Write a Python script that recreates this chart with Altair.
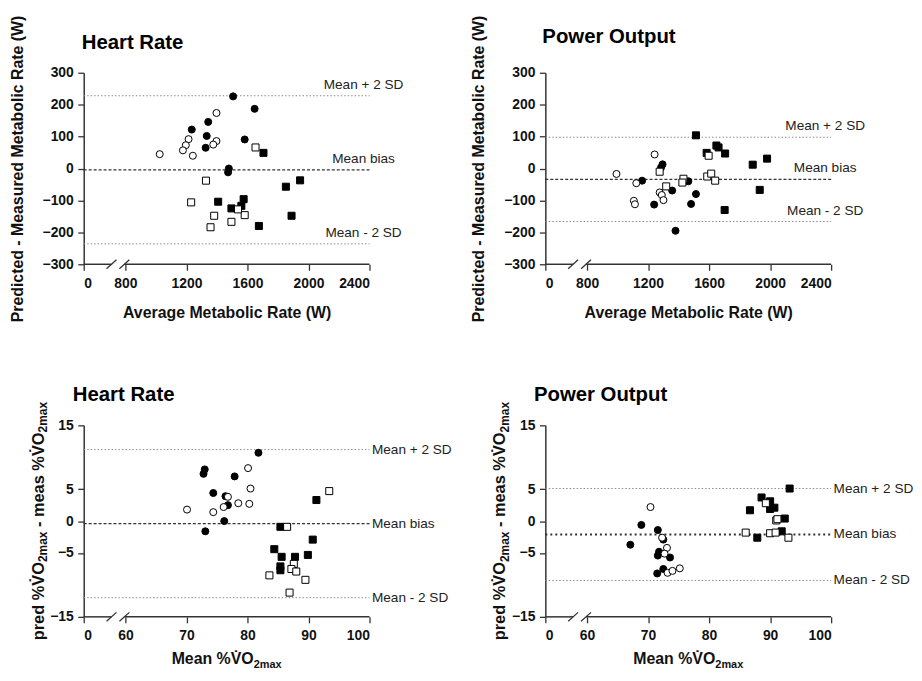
import altair as alt
import pandas as pd

FONT = "Liberation Sans"
INK = "#111111"
AXIS_C = "#333333"

# ---------------- values ----------------
# Panel A - Heart Rate, metabolic rate (W)
A_fc_x = [1506, 1647, 1343, 1235, 1333, 1582, 1326, 1478, 1473]
A_fc_y = [226, 187, 146, 122, 102, 91, 65, 0, -12]
A_oc_x = [1025, 1397, 1214, 1196, 1177, 1242, 1397, 1376]
A_oc_y = [45, 174, 92, 73, 57, 40, 86, 75]
A_fs_x = [1705, 1408, 1495, 1560, 1575, 1675, 1852, 1889, 1945]
A_fs_y = [49, -104, -125, -117, -96, -180, -57, -148, -37]
A_os_x = [1653, 1328, 1231, 1382, 1358, 1495, 1582, 1538]
A_os_y = [66, -38, -106, -148, -184, -167, -146, -128]
A_lines = [228, -4, -236]

# Panel B - Power Output, metabolic rate (W)
B_fc_x = [1161, 1285, 1295, 1358, 1464, 1514, 1240, 1482, 1380]
B_fc_y = [-38, 3, 13, -69, -40, -80, -113, -111, -195]
B_oc_x = [993, 1243, 1123, 1276, 1290, 1301, 1107, 1114]
B_oc_y = [-17, 44, -46, -75, -83, -99, -101, -112]
B_fs_x = [1514, 1648, 1662, 1584, 1705, 1886, 1980, 1932, 1702]
B_fs_y = [104, 72, 66, 49, 47, 12, 31, -67, -130]
B_os_x = [1597, 1276, 1432, 1425, 1319, 1588, 1614, 1640]
B_os_y = [40, -10, -32, -44, -56, -25, -16, -38]
B_lines = [98, -34, -166]

# Panel C - Heart Rate, %VO2max
C_fc_x = [81.8, 73.0, 72.8, 77.9, 74.4, 76.4, 76.8, 76.2, 73.1]
C_fc_y = [10.7, 8.1, 7.4, 7.0, 4.4, 3.9, 2.5, 0.0, -1.6]
C_oc_x = [80.1, 80.5, 80.3, 78.5, 76.8, 76.1, 74.4, 70.1]
C_oc_y = [8.3, 5.1, 2.7, 2.8, 3.8, 2.2, 1.4, 1.8]
C_fs_x = [91.3, 85.4, 90.7, 84.4, 85.6, 87.8, 89.9, 85.4, 85.4]
C_fs_y = [3.3, -0.9, -2.9, -4.4, -5.6, -5.6, -5.3, -7.1, -7.7]
C_os_x = [93.4, 86.5, 87.6, 87.2, 88.0, 83.6, 89.5, 86.9]
C_os_y = [4.7, -0.9, -6.7, -7.5, -7.9, -8.5, -9.2, -11.2]
C_lines = [11.2, -0.4, -12.0]

# Panel D - Power Output, %VO2max
D_fc_x = [67.1, 68.9, 71.6, 72.5, 71.8, 71.6, 73.6, 72.5, 71.5]
D_fc_y = [-3.7, -0.6, -1.4, -2.9, -4.8, -5.4, -5.7, -7.5, -8.2]
D_oc_x = [70.4, 72.3, 73.1, 72.7, 73.2, 74.0, 75.2]
D_oc_y = [2.2, -2.6, -4.2, -5.1, -8.1, -7.8, -7.4]
D_fs_x = [93.2, 88.6, 90.0, 86.7, 90.0, 90.7, 92.4, 91.9, 87.9]
D_fs_y = [5.1, 3.7, 3.1, 1.7, 1.9, 2.1, 0.4, -1.6, -2.6]
D_os_x = [89.3, 91.0, 91.2, 86.0, 90.0, 90.9, 93.0]
D_os_y = [2.8, 0.1, 0.3, -1.8, -1.9, -1.8, -2.6]
D_lines = [5.1, -2.1, -9.3]

line_labels = ["Mean + 2 SD", "Mean bias", "Mean - 2 SD"]
line_kinds = ["sd", "bias", "sd"]
panel_titles = ["Heart Rate", "Power Output", "Heart Rate", "Power Output"]

x_ticks_w = [800, 1200, 1600, 2000, 2400]
x_ticks_pct = [60, 70, 80, 90, 100]
y_ticks_w = [-300, -200, -100, 0, 100, 200, 300]
y_ticks_pct = [-15, -5, 0, 5, 15]

X_TITLE_W = "Average Metabolic Rate (W)"
Y_TITLE_W = "Predicted - Measured Metabolic Rate (W)"
VO = "%V\u0307O"
X_RUNS_P = [("Mean " + VO, False), ("2max", True)]
Y_RUNS_P = [("pred " + VO, False), ("2max", True), ("- meas " + VO, False), ("2max", True)]

# ---------------- layout constants ----------------
W, H = 288, 193
BREAK_PX = 42
ORIGIN_X, ORIGIN_Y = 76.3, 62.7      # top-left plot corner inside the svg
SVG_W, SVG_H = 913, 663               # fits the 922x681 window with the 8px page margin
COL_GAP, ROW_GAP = 177.2, 162.3

GROUP_ORDER = ["fc", "fs", "oc", "os"]
SHAPE_RANGE = ["circle", "square", "circle", "square"]
FILL_RANGE = ["#000000", "#000000", "#ffffff", "#ffffff"]

BOLD_W = {" ": 278, "%": 889, "-": 333, "2": 556, "O": 778, "V": 667, "a": 556, "d": 611,
          "e": 556, "m": 889, "n": 611, "p": 611, "r": 389, "s": 556, "x": 556, "M": 833,
          "\u0307": 0}


def tw(s, size):
    return sum(BOLD_W[c] for c in s) * size / 1000.0


def piece(s, x, y, size, angle=0):
    return alt.Chart(pd.DataFrame({"t": [s]})).mark_text(
        font=FONT, fontSize=size, fontWeight="bold", color=INK,
        align="left", baseline="alphabetic", angle=angle
    ).encode(text="t:N", x=alt.value(x), y=alt.value(y))


def x_title_layers(runs, main=16, sub=11, base=48, shift=4):
    total = sum(tw(t, sub if s else main) for t, s in runs)
    cur = W / 2 - total / 2
    out = []
    for t, s in runs:
        size = sub if s else main
        out.append(piece(t, cur, H + base + (shift if s else 0), size))
        cur += tw(t, size)
    return out


def y_title_layers(runs, main=16.5, sub=12, base=-40.5, shift=4):
    gap = tw(" ", main)
    total = 0
    for i, (t, s) in enumerate(runs):
        total += tw(t, sub if s else main)
        if i > 0 and not s:
            total += gap
    cur = H / 2 + total / 2
    out = []
    for i, (t, s) in enumerate(runs):
        size = sub if s else main
        if i > 0 and not s:
            cur -= gap
        out.append(piece(t, base + (shift if s else 0), cur, size, angle=270))
        cur -= tw(t, size)
    return out


def panel(title, series, lines, xticks, yticks, xtitle, ytitle, ytp,
          tx, ty, top_labels, bias_dash, bias_width, extra_titles):
    first, xmax = xticks[0], xticks[-1]
    k = BREAK_PX / W
    x0 = (first - k * xmax) / (1 - k)
    unit = (xmax - x0) / W
    b1, b2, d = x0 + 28 * unit, x0 + 41 * unit, 5 * unit

    rows = []
    for g in GROUP_ORDER:
        xs, ys = series[g]
        rows += [{"x": a, "y": b, "g": g} for a, b in zip(xs, ys)]
    pts_df = pd.DataFrame(rows)

    xvals = [x0] + xticks
    xscale = alt.Scale(domain=[x0, xmax], nice=False, zero=False)
    yscale = alt.Scale(domain=[yticks[0], yticks[-1]], nice=False, zero=False)
    xaxis = alt.Axis(values=xvals, tickCount=len(xvals) + 2, format="d",
                     labelExpr=f"datum.value < {first - 0.5} ? '0' : datum.label",
                     domain=False, titlePadding=14.5, labelOverlap=False)
    yaxis = alt.Axis(values=yticks, tickCount=len(yticks) + 2, titlePadding=ytp, labelOverlap=False)

    lines_df = pd.DataFrame({"y": lines, "label": line_labels, "kind": line_kinds})

    sd = alt.Chart(lines_df).transform_filter("datum.kind == 'sd'").mark_rule(
        color="#8a8a8a", strokeDash=[1.5, 2], strokeWidth=1
    ).encode(x=alt.datum(x0), x2=alt.datum(xmax), y=alt.Y("y:Q", title=ytitle))

    bias = alt.Chart(lines_df).transform_filter("datum.kind == 'bias'").mark_rule(
        color="#333333", strokeDash=bias_dash, strokeWidth=bias_width
    ).encode(x=alt.datum(x0), x2=alt.datum(xmax), y=alt.Y("y:Q", title=ytitle))

    axis_df = pd.DataFrame({"a": [x0, b2], "b": [b1, xmax]})
    axis_line = alt.Chart(axis_df).mark_rule(color=AXIS_C, strokeWidth=1.5).encode(
        x=alt.X("a:Q", title=xtitle), x2="b:Q", y=alt.value(H)
    )
    slash_df = pd.DataFrame({"a": [b1 - d, b2 - d], "b": [b1 + d, b2 + d]})
    slashes = alt.Chart(slash_df).mark_rule(color=AXIS_C, strokeWidth=1.3).encode(
        x=alt.X("a:Q", title=xtitle), x2="b:Q", y=alt.value(H + 4.5), y2=alt.value(H - 4.5)
    )

    pts = alt.Chart(pts_df).mark_point(
        filled=True, stroke="#000000", strokeWidth=1, opacity=1, size=50
    ).encode(
        x=alt.X("x:Q", scale=xscale, axis=xaxis, title=xtitle),
        y=alt.Y("y:Q", scale=yscale, axis=yaxis, title=ytitle),
        shape=alt.Shape("g:N", scale=alt.Scale(domain=GROUP_ORDER, range=SHAPE_RANGE), legend=None),
        fill=alt.Fill("g:N", scale=alt.Scale(domain=GROUP_ORDER, range=FILL_RANGE), legend=None),
    )

    if top_labels:
        lab = alt.Chart(lines_df).mark_text(
            font=FONT, fontSize=13.7, color="#222222", align="center", baseline="middle", dx=-6, dy=-11
        )
    else:
        lab = alt.Chart(lines_df).mark_text(
            font=FONT, fontSize=13.7, color="#222222", align="left", baseline="middle", dx=2.5
        )
    lab = lab.encode(x=alt.datum(xmax), y=alt.Y("y:Q", title=ytitle), text="label:N")

    ttl = alt.Chart(pd.DataFrame({"t": [title]})).mark_text(
        font=FONT, fontSize=20.5, fontWeight="bold", align="left", baseline="alphabetic", color="#000000"
    ).encode(text="t:N", x=alt.value(tx), y=alt.value(ty))

    return alt.layer(sd, bias, axis_line, slashes, pts, lab, ttl, *extra_titles).properties(width=W, height=H)


pA = panel(panel_titles[0],
           {"fc": (A_fc_x, A_fc_y), "oc": (A_oc_x, A_oc_y), "fs": (A_fs_x, A_fs_y), "os": (A_os_x, A_os_y)},
           A_lines, x_ticks_w, y_ticks_w, X_TITLE_W, Y_TITLE_W, 17, -2, -24, True, [3, 2], 1.2, [])
pB = panel(panel_titles[1],
           {"fc": (B_fc_x, B_fc_y), "oc": (B_oc_x, B_oc_y), "fs": (B_fs_x, B_fs_y), "os": (B_os_x, B_os_y)},
           B_lines, x_ticks_w, y_ticks_w, X_TITLE_W, Y_TITLE_W, 17, -3, -30, True, [3, 2], 1.2, [])
pC = panel(panel_titles[2],
           {"fc": (C_fc_x, C_fc_y), "oc": (C_oc_x, C_oc_y), "fs": (C_fs_x, C_fs_y), "os": (C_os_x, C_os_y)},
           C_lines, x_ticks_pct, y_ticks_pct, None, None, 7, -11, -24.5, False, [3, 2], 1.2,
           x_title_layers(X_RUNS_P) + y_title_layers(Y_RUNS_P))
pD = panel(panel_titles[3],
           {"fc": (D_fc_x, D_fc_y), "oc": (D_oc_x, D_oc_y), "fs": (D_fs_x, D_fs_y), "os": (D_os_x, D_os_y)},
           D_lines, x_ticks_pct, y_ticks_pct, None, None, 7, -11.5, -25, False, [2, 3], 1.8,
           x_title_layers(X_RUNS_P) + y_title_layers(Y_RUNS_P))

chart = alt.concat(
    pA, pB, pC, pD, columns=2, spacing={"row": ROW_GAP, "column": COL_GAP}, bounds="flush"
).properties(
    autosize=alt.AutoSizeParams(type="none"),
    padding={"left": ORIGIN_X, "top": ORIGIN_Y,
             "right": SVG_W - ORIGIN_X, "bottom": SVG_H - ORIGIN_Y},
).configure_view(stroke=None).configure_axis(
    labelFont=FONT, labelFontSize=14, labelFontWeight="bold", labelColor=INK, labelOverlap=False,
    titleFont=FONT, titleFontSize=16, titleFontWeight="bold", titleColor=INK,
    tickColor=AXIS_C, tickSize=6, tickWidth=1.3, domainColor=AXIS_C, domainWidth=1.5, grid=False,
).configure_axisX(labelPadding=6).configure_axisY(labelPadding=4.5)

chart.save("out.html", embed_options={"renderer": "svg", "actions": False})
